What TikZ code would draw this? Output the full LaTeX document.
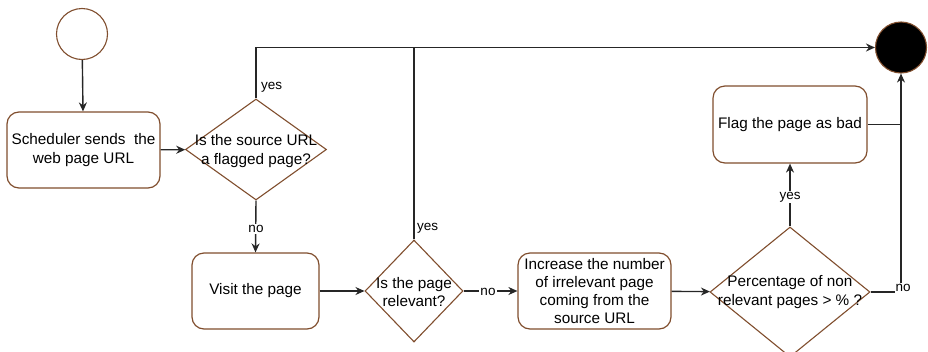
\documentclass[tikz,border=0pt]{standalone}
\usepackage{fontspec}
\setmainfont{Liberation Sans}
\usetikzlibrary{shapes.geometric,arrows.meta}
\definecolor{edge}{RGB}{128,78,46}
\tikzset{
  every picture/.style={x=1pt,y=-1pt},
  flowbox/.style={draw=edge,line width=1.2pt,rounded corners=12pt,fill=white,inner sep=0pt},
  decision/.style={draw=edge,line width=1.1pt,diamond,shape aspect=1,inner sep=0pt,fill=white},
  txt/.style={align=center,font=\fontsize{15.3}{18.3}\selectfont,inner sep=0pt},
  lbl/.style={font=\fontsize{13.5}{16}\selectfont,inner sep=1pt},
  wlbl/.style={lbl,fill=white},
  conn/.style={line width=1.4pt,draw=black!85},
  arr/.style={conn,-{Stealth[length=9pt,width=8pt]}},
}
\begin{document}
\begin{tikzpicture}
\useasboundingbox (0,0) rectangle (928,351);
\clip (0,0) rectangle (928,351);

% start and end states
\node[circle,draw=edge,line width=1.1pt,minimum size=51pt,inner sep=0pt] (start) at (82,34) {};
\node[circle,draw=edge,fill=black,line width=1.1pt,minimum size=51pt,inner sep=0pt] (stop) at (901,47.5) {};

% actions
\node[flowbox,minimum width=153pt,minimum height=76pt] (sched) at (83.5,150) {};
\node[txt] at (sched) {Scheduler sends~ the\\web page URL};
\node[flowbox,minimum width=127pt,minimum height=76pt] (visit) at (255.5,291) {};
\node[txt] at (visit) {Visit the page};
\node[flowbox,minimum width=153pt,minimum height=76pt] (incr) at (594.5,291) {};
\node[txt] at (incr) {Increase the number\\of irrelevant page\\coming from the\\source URL};
\node[flowbox,minimum width=154pt,minimum height=77pt] (flag) at (790,124.5) {};
\node[txt] at (flag) {Flag the page as bad};

% decisions
\node[decision,minimum width=141pt,minimum height=101pt] (src) at (256,149.5) {};
\node[txt] at (256,151) {Is the source URL\\a flagged page?};
\node[decision,minimum width=98pt,minimum height=102pt] (rel) at (414,291) {};
\node[txt] at (414,292) {Is the page\\relevant?};
\node[decision,minimum width=160pt,minimum height=130pt] (pct) at (790,292) {};
\node[txt] at (790,292) {Percentage of non\\relevant pages > \% ?};

% connectors
\draw[arr] (start) -- (sched);
\draw[arr] (sched) -- (src);
\draw[arr] (src.north) |- (stop.west);
\node[lbl,anchor=west] at (260,87) {yes};
\draw[conn] (rel.north) -- (rel.north |- stop.west);
\node[lbl,anchor=west] at (416,228) {yes};
\draw[arr] (src.south) -- (visit.north);
\node[wlbl] at (256,229) {no};
\draw[arr] (visit) -- (rel);
\draw[arr] (rel.east) -- (incr.west);
\node[wlbl] at (488,292) {no};
\draw[arr] (incr) -- (pct);
\draw[arr] (pct.north) -- (flag.south);
\node[wlbl] at (790,197) {yes};
\coordinate (corner) at (stop.south |- pct.east);
\draw[arr] (pct.east) -- (corner) -- (stop.south);
\draw[conn] (flag.east) -- (flag.east -| stop.south);
\node[wlbl] at (903,288) {no};
\end{tikzpicture}
\end{document}
